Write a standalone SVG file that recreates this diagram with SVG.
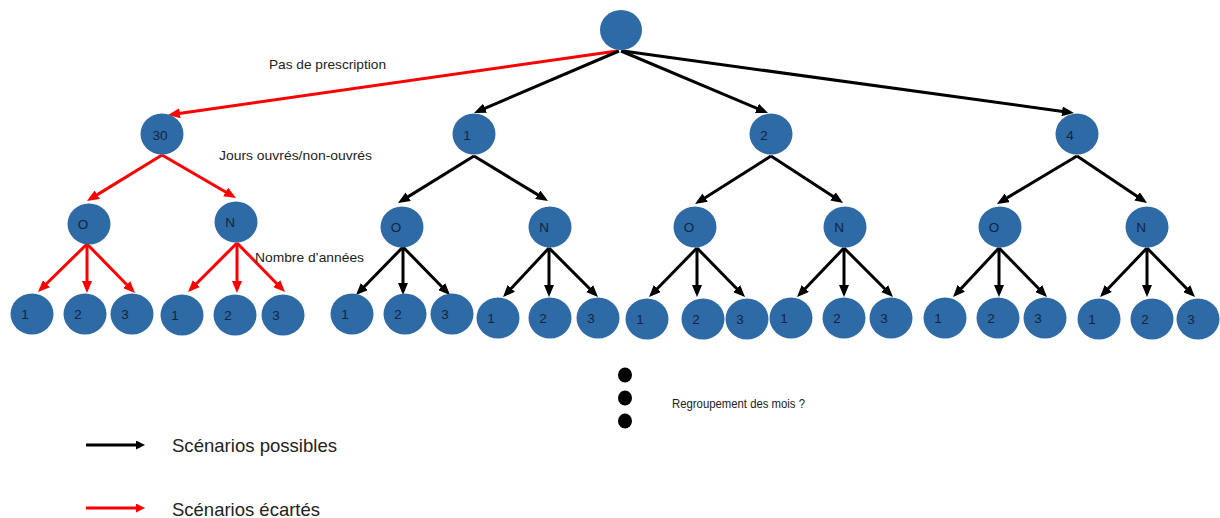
<svg xmlns="http://www.w3.org/2000/svg" width="1220" height="518" viewBox="0 0 1220 518">
<style>
.n{fill:#2E6AA6;}
.t{font-family:"Liberation Sans",Arial,sans-serif;font-size:13.5px;fill:#13243F;text-anchor:middle;}
.lb{font-family:"Liberation Sans",Arial,sans-serif;font-size:13px;fill:#222;}
.lg{font-family:"Liberation Sans",Arial,sans-serif;font-size:18.5px;fill:#222;}
.k{stroke:#000;stroke-width:3;fill:none;marker-end:url(#ab);}
.r{stroke:#F00;stroke-width:3;fill:none;marker-end:url(#ar);}
.ks{stroke:#000;stroke-width:3;fill:none;marker-end:url(#abs);}
.rs{stroke:#F00;stroke-width:3;fill:none;marker-end:url(#ars);}
</style>
<defs>
<marker id="ab" markerUnits="userSpaceOnUse" markerWidth="12" markerHeight="10" refX="8" refY="5" orient="auto"><path d="M0,0 L12,5 L0,10 z" fill="#000"/></marker>
<marker id="ar" markerUnits="userSpaceOnUse" markerWidth="12" markerHeight="10" refX="8" refY="5" orient="auto"><path d="M0,0 L12,5 L0,10 z" fill="#F00"/></marker>
<marker id="abs" markerUnits="userSpaceOnUse" markerWidth="9" markerHeight="9" refX="5" refY="4.5" orient="auto"><path d="M0,0 L9,4.5 L0,9 z" fill="#000"/></marker>
<marker id="ars" markerUnits="userSpaceOnUse" markerWidth="9" markerHeight="9" refX="5" refY="4.5" orient="auto"><path d="M0,0 L9,4.5 L0,9 z" fill="#F00"/></marker>
</defs>
<rect width="1220" height="518" fill="#fff"/>

<g id="connectors">
<line class="r" x1="617" y1="51" x2="172" y2="114.4"/>
<line class="k" x1="619" y1="51" x2="477.7" y2="111.4"/>
<line class="k" x1="621" y1="51" x2="764.3" y2="111.4"/>
<line class="k" x1="623" y1="51" x2="1070" y2="112.5"/>

<line class="r" x1="162" y1="155" x2="90.4" y2="198.9"/>
<line class="r" x1="162" y1="155" x2="232.5" y2="196"/>
<line class="k" x1="474" y1="156" x2="401.4" y2="200.9"/>
<line class="k" x1="474" y1="156" x2="544.6" y2="198.9"/>
<line class="k" x1="771" y1="156" x2="698.4" y2="201.9"/>
<line class="k" x1="771" y1="156" x2="839.7" y2="200.8"/>
<line class="k" x1="1077" y1="156" x2="1000.4" y2="201.9"/>
<line class="k" x1="1077" y1="156" x2="1143.7" y2="200.8"/>

<line class="r" x1="87" y1="244" x2="40.8" y2="289.2"/>
<line class="r" x1="87" y1="244" x2="87" y2="289"/>
<line class="r" x1="87" y1="244" x2="132.2" y2="290.2"/>
<line class="r" x1="237" y1="243" x2="190.8" y2="289.2"/>
<line class="r" x1="237" y1="243" x2="237" y2="289"/>
<line class="r" x1="237" y1="243" x2="282.2" y2="289.2"/>

<line class="k" x1="403" y1="247" x2="358.8" y2="292.2"/>
<line class="k" x1="403" y1="247" x2="403" y2="291"/>
<line class="k" x1="403" y1="247" x2="447.2" y2="292.2"/>
<line class="k" x1="549" y1="248" x2="505.8" y2="294.2"/>
<line class="k" x1="549" y1="248" x2="549" y2="293"/>
<line class="k" x1="549" y1="248" x2="595.2" y2="294.2"/>

<line class="k" x1="697" y1="248" x2="651.8" y2="294.2"/>
<line class="k" x1="697" y1="248" x2="697" y2="293"/>
<line class="k" x1="697" y1="248" x2="742.2" y2="294.2"/>
<line class="k" x1="844" y1="248" x2="799.8" y2="294.2"/>
<line class="k" x1="844" y1="248" x2="844" y2="293"/>
<line class="k" x1="844" y1="248" x2="890.2" y2="294.2"/>

<line class="k" x1="999" y1="248" x2="955.8" y2="294.2"/>
<line class="k" x1="999" y1="248" x2="999" y2="293"/>
<line class="k" x1="999" y1="248" x2="1044.2" y2="294.2"/>
<line class="k" x1="1147" y1="248" x2="1102.8" y2="294.2"/>
<line class="k" x1="1147" y1="248" x2="1147" y2="293"/>
<line class="k" x1="1147" y1="248" x2="1192.2" y2="294.2"/>
</g>

<g id="root"><ellipse class="n" cx="621" cy="30" rx="21" ry="20"/></g>

<g id="n30"><ellipse class="n" cx="162" cy="134" rx="21.5" ry="20.5"/><text class="t" x="160" y="140">30</text></g>
<g id="n1"><ellipse class="n" cx="474" cy="134" rx="21.5" ry="20.5"/><text class="t" x="467" y="140">1</text></g>
<g id="n2"><ellipse class="n" cx="771" cy="134" rx="21.5" ry="20.5"/><text class="t" x="764" y="140">2</text></g>
<g id="n4"><ellipse class="n" cx="1077" cy="134" rx="21.5" ry="20.5"/><text class="t" x="1070" y="140">4</text></g>

<g id="n30-O"><ellipse class="n" cx="89" cy="224" rx="21.5" ry="20.5"/><text class="t" x="83" y="229">O</text></g>
<g id="n30-N"><ellipse class="n" cx="236" cy="222" rx="21.5" ry="20.5"/><text class="t" x="230" y="227">N</text></g>
<g id="n1-O"><ellipse class="n" cx="402" cy="227" rx="21.5" ry="20.5"/><text class="t" x="396" y="232">O</text></g>
<g id="n1-N"><ellipse class="n" cx="550" cy="227" rx="21.5" ry="20.5"/><text class="t" x="544" y="232">N</text></g>
<g id="n2-O"><ellipse class="n" cx="695" cy="227" rx="21.5" ry="20.5"/><text class="t" x="689" y="232">O</text></g>
<g id="n2-N"><ellipse class="n" cx="845" cy="227" rx="21.5" ry="20.5"/><text class="t" x="839" y="232">N</text></g>
<g id="n4-O"><ellipse class="n" cx="1000" cy="227" rx="21.5" ry="20.5"/><text class="t" x="994" y="232">O</text></g>
<g id="n4-N"><ellipse class="n" cx="1147" cy="227" rx="21.5" ry="20.5"/><text class="t" x="1141" y="232">N</text></g>

<g id="n30-O-1"><ellipse class="n" cx="32" cy="314" rx="21.5" ry="20.5"/><text class="t" x="25" y="319">1</text></g>
<g id="n30-O-2"><ellipse class="n" cx="85" cy="314" rx="21.5" ry="20.5"/><text class="t" x="78" y="319">2</text></g>
<g id="n30-O-3"><ellipse class="n" cx="132" cy="314" rx="21.5" ry="20.5"/><text class="t" x="125" y="319">3</text></g>
<g id="n30-N-1"><ellipse class="n" cx="182" cy="315" rx="21.5" ry="20.5"/><text class="t" x="175" y="320">1</text></g>
<g id="n30-N-2"><ellipse class="n" cx="235" cy="315" rx="21.5" ry="20.5"/><text class="t" x="228" y="320">2</text></g>
<g id="n30-N-3"><ellipse class="n" cx="283" cy="315" rx="21.5" ry="20.5"/><text class="t" x="276" y="320">3</text></g>

<g id="n1-O-1"><ellipse class="n" cx="352" cy="314" rx="21.5" ry="20.5"/><text class="t" x="345" y="319">1</text></g>
<g id="n1-O-2"><ellipse class="n" cx="405" cy="314" rx="21.5" ry="20.5"/><text class="t" x="398" y="319">2</text></g>
<g id="n1-O-3"><ellipse class="n" cx="452" cy="314" rx="21.5" ry="20.5"/><text class="t" x="445" y="319">3</text></g>
<g id="n1-N-1"><ellipse class="n" cx="498" cy="318" rx="21.5" ry="20.5"/><text class="t" x="491" y="323">1</text></g>
<g id="n1-N-2"><ellipse class="n" cx="550" cy="318" rx="21.5" ry="20.5"/><text class="t" x="543" y="323">2</text></g>
<g id="n1-N-3"><ellipse class="n" cx="598" cy="318" rx="21.5" ry="20.5"/><text class="t" x="591" y="323">3</text></g>

<g id="n2-O-1"><ellipse class="n" cx="647" cy="319" rx="21.5" ry="20.5"/><text class="t" x="640" y="324">1</text></g>
<g id="n2-O-2"><ellipse class="n" cx="703" cy="319" rx="21.5" ry="20.5"/><text class="t" x="696" y="324">2</text></g>
<g id="n2-O-3"><ellipse class="n" cx="747" cy="319" rx="21.5" ry="20.5"/><text class="t" x="740" y="324">3</text></g>
<g id="n2-N-1"><ellipse class="n" cx="791" cy="318" rx="21.5" ry="20.5"/><text class="t" x="784" y="323">1</text></g>
<g id="n2-N-2"><ellipse class="n" cx="844" cy="318" rx="21.5" ry="20.5"/><text class="t" x="837" y="323">2</text></g>
<g id="n2-N-3"><ellipse class="n" cx="891" cy="318" rx="21.5" ry="20.5"/><text class="t" x="884" y="323">3</text></g>

<g id="n4-O-1"><ellipse class="n" cx="945" cy="318" rx="21.5" ry="20.5"/><text class="t" x="938" y="323">1</text></g>
<g id="n4-O-2"><ellipse class="n" cx="998" cy="318" rx="21.5" ry="20.5"/><text class="t" x="991" y="323">2</text></g>
<g id="n4-O-3"><ellipse class="n" cx="1045" cy="318" rx="21.5" ry="20.5"/><text class="t" x="1038" y="323">3</text></g>
<g id="n4-N-1"><ellipse class="n" cx="1099" cy="319" rx="21.5" ry="20.5"/><text class="t" x="1092" y="324">1</text></g>
<g id="n4-N-2"><ellipse class="n" cx="1152" cy="319" rx="21.5" ry="20.5"/><text class="t" x="1145" y="324">2</text></g>
<g id="n4-N-3"><ellipse class="n" cx="1198" cy="319" rx="21.5" ry="20.5"/><text class="t" x="1191" y="324">3</text></g>

<g id="labels">
<text class="lb" x="269" y="69" textLength="117" lengthAdjust="spacingAndGlyphs">Pas de prescription</text>
<text class="lb" x="219" y="160" textLength="153" lengthAdjust="spacingAndGlyphs">Jours ouvrés/non-ouvrés</text>
<text class="lb" x="255" y="262" textLength="109" lengthAdjust="spacingAndGlyphs">Nombre d’années</text>
<text class="lb" x="672" y="408" font-size="13" textLength="133" lengthAdjust="spacingAndGlyphs">Regroupement des mois ?</text>
</g>

<g id="dots">
<ellipse cx="625" cy="375" rx="7" ry="7.5" fill="#000"/>
<ellipse cx="625" cy="398" rx="7" ry="7.5" fill="#000"/>
<ellipse cx="625" cy="421" rx="7" ry="7.5" fill="#000"/>
</g>

<g id="legend">
<line class="ks" x1="86" y1="445" x2="141" y2="445"/>
<text class="lg" x="172" y="452" textLength="165" lengthAdjust="spacingAndGlyphs">Scénarios possibles</text>
<line class="rs" x1="86" y1="508" x2="141" y2="508"/>
<text class="lg" x="172" y="516" textLength="148" lengthAdjust="spacingAndGlyphs">Scénarios écartés</text>
</g>
</svg>
